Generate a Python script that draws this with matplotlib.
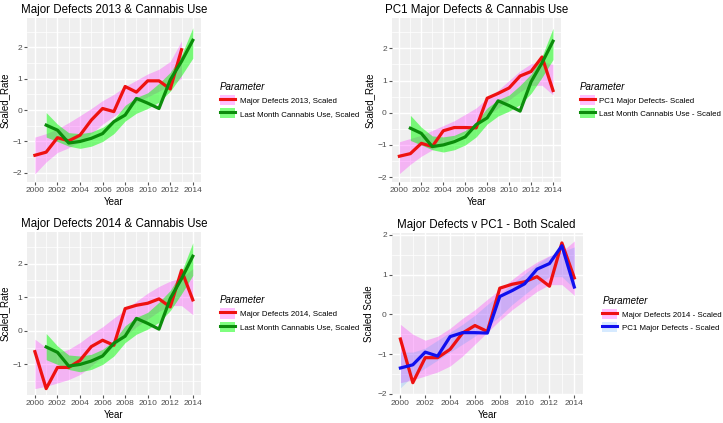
import numpy as np
import matplotlib
matplotlib.use("Agg")
import matplotlib.pyplot as plt
from matplotlib.patches import Patch
from matplotlib.lines import Line2D

plt.rcParams["font.family"] = ["Liberation Sans", "DejaVu Sans"]

# years
yrs_all = list(range(2000, 2015))
yrs_2013 = list(range(2000, 2014))
yrs_cann = list(range(2001, 2015))

# series values (scaled)
defects_2013 = [-1.44, -1.34, -0.88, -0.98, -0.80, -0.32, 0.05, -0.05, 0.75, 0.57, 0.93, 0.93, 0.67, 1.92]
defects_2014 = [-0.62, -1.72, -1.09, -1.09, -0.88, -0.47, -0.28, -0.43, 0.66, 0.76, 0.82, 0.95, 0.71, 1.80, 0.92]
pc1_defects = [-1.35, -1.27, -0.95, -1.05, -0.56, -0.46, -0.46, -0.47, 0.45, 0.60, 0.77, 1.14, 1.28, 1.73, 0.69]
cannabis = [-0.48, -0.64, -1.05, -1.00, -0.90, -0.75, -0.37, -0.16, 0.37, 0.22, 0.05, 0.96, 1.55, 2.22]

# smoother ribbons (lower / upper)
d13_lo = [-2.03, -1.65, -1.35, -1.20, -1.00, -0.75, -0.45, -0.20, 0.05, 0.25, 0.42, 0.60, 0.80, 1.00]
d13_hi = [-0.86, -0.75, -0.60, -0.40, -0.18, 0.05, 0.30, 0.50, 0.75, 0.95, 1.15, 1.30, 1.55, 2.20]
can_lo = [-0.86, -1.00, -1.15, -1.22, -1.15, -1.00, -0.75, -0.35, -0.10, 0.05, 0.25, 0.60, 1.10, 1.65]
can_hi = [-0.08, -0.45, -0.72, -0.75, -0.70, -0.55, -0.30, 0.15, 0.40, 0.55, 0.85, 1.20, 1.75, 2.62]
pc1_lo = [-1.89, -1.60, -1.35, -1.15, -0.95, -0.80, -0.62, -0.40, -0.10, 0.15, 0.40, 0.65, 0.85, 0.85, 0.55]
pc1_hi = [-0.90, -0.80, -0.70, -0.55, -0.40, -0.25, -0.05, 0.15, 0.45, 0.70, 1.00, 1.30, 1.52, 1.58, 1.50]
d14_lo = [-1.72, -1.65, -1.55, -1.45, -1.30, -1.05, -0.75, -0.45, -0.15, 0.12, 0.35, 0.58, 0.75, 0.75, 0.48]
d14_hi = [-0.25, -0.50, -0.65, -0.55, -0.35, -0.10, 0.12, 0.38, 0.62, 0.88, 1.12, 1.32, 1.48, 1.58, 1.85]
pcb_lo = [-1.85, -1.55, -1.35, -1.15, -0.95, -0.75, -0.55, -0.30, -0.05, 0.25, 0.50, 0.75, 0.95, 0.95, 0.65]
pcb_hi = [-0.95, -0.95, -0.85, -0.65, -0.45, -0.25, -0.02, 0.25, 0.50, 0.78, 1.02, 1.27, 1.47, 1.58, 1.70]

RED = "#ee1111"
GREEN = "#0b8c0b"
BLUE = "#1010ee"
PINK = ("#ff00ff", 0.25)
LGREEN = ("#00ff00", 0.5)
LBLUE = ("#3399ff", 0.2)

fig = plt.figure(figsize=(7.23, 4.23), dpi=100)
W, H = 723, 423


def make_ax(l, r, t, b):
    return fig.add_axes([l / W, 1 - b / H, (r - l) / W, (b - t) / H])


def style(ax, title, ylab, ylim, yticks, tx):
    ax.set_facecolor("#efefef")
    ax.set_xlim(1999.3, 2014.7)
    ax.set_xticks(range(2000, 2015, 2))
    ax.set_xticks(range(2001, 2015, 2), minor=True)
    ax.set_yticks(yticks)
    ax.set_yticks(np.arange(-2.5, 3.0, 1.0), minor=True)
    ax.set_ylim(*ylim)
    ax.grid(which="major", color="white", lw=1.0)
    ax.grid(which="minor", color="white", lw=0.5)
    ax.set_axisbelow(True)
    for s in ax.spines.values():
        s.set_visible(False)
    ax.tick_params(which="major", length=2, color="#555555", labelsize=6,
                   labelcolor="#4d4d4d", pad=1.5)
    ax.tick_params(which="minor", length=0)
    ax.set_title(title, fontsize=8.3, loc="left", x=tx, pad=3.6)
    ax.set_xlabel("Year", fontsize=7, labelpad=2)
    ax.set_ylabel(ylab, fontsize=7, labelpad=2)


def ribbon(ax, x, lo, hi, fill):
    ax.fill_between(x, lo, hi, color=fill[0], alpha=fill[1], lw=0)


def legend(ax, items, x_off):
    handles = [(Patch(facecolor=f[0], alpha=f[1], edgecolor="none"),
                Line2D([], [], color=c, lw=2.2)) for f, c, _ in items]
    labels = [lab for _, _, lab in items]
    leg = ax.legend(handles, labels, loc="center left", bbox_to_anchor=(x_off, 0.5),
                    frameon=False, fontsize=5.7, title="Parameter",
                    title_fontproperties={"style": "italic", "size": 7},
                    handlelength=1.9, handleheight=1.6, handletextpad=0.6,
                    labelspacing=0.4, borderpad=0.4, alignment="left")
    return leg


# panel 1
ax1 = make_ax(27, 200.7, 18, 182)
ribbon(ax1, yrs_2013, d13_lo, d13_hi, PINK)
ribbon(ax1, yrs_cann, can_lo, can_hi, LGREEN)
ax1.plot(yrs_2013, defects_2013, color=RED, lw=2.3)
ax1.plot(yrs_cann, cannabis, color=GREEN, lw=2.3)
style(ax1, "Major Defects 2013 & Cannabis Use", "Scaled_Rate", (-2.29, 2.93),
      [-2, -1, 0, 1, 2], -0.036)
legend(ax1, [(PINK, RED, "Major Defects 2013, Scaled"),
             (LGREEN, GREEN, "Last Month Cannabis Use, Scaled")], 1.07)

# panel 2
ax2 = make_ax(391.7, 560.7, 18, 182)
ribbon(ax2, yrs_all, pc1_lo, pc1_hi, PINK)
ribbon(ax2, yrs_cann, can_lo, can_hi, LGREEN)
ax2.plot(yrs_all, pc1_defects, color=RED, lw=2.3)
ax2.plot(yrs_cann, cannabis, color=GREEN, lw=2.3)
style(ax2, "PC1 Major Defects & Cannabis Use", "Scaled_Rate", (-2.15, 2.94),
      [-2, -1, 0, 1, 2], -0.04)
legend(ax2, [(PINK, RED, "PC1 Major Defects- Scaled"),
             (LGREEN, GREEN, "Last Month Cannabis Use - Scaled")], 1.07)

# panel 3
ax3 = make_ax(27, 200.7, 232, 395)
ribbon(ax3, yrs_all, d14_lo, d14_hi, PINK)
ribbon(ax3, yrs_cann, can_lo, can_hi, LGREEN)
ax3.plot(yrs_all, defects_2014, color=RED, lw=2.3)
ax3.plot(yrs_cann, cannabis, color=GREEN, lw=2.3)
style(ax3, "Major Defects 2014 & Cannabis Use", "Scaled_Rate", (-1.91, 2.94),
      [-1, 0, 1, 2], -0.036)
legend(ax3, [(PINK, RED, "Major Defects 2014, Scaled"),
             (LGREEN, GREEN, "Last Month Cannabis Use, Scaled")], 1.07)

# panel 4
ax4 = make_ax(391.7, 583, 233, 395)
ribbon(ax4, yrs_all, d14_lo, d14_hi, PINK)
ribbon(ax4, yrs_all, pcb_lo, pcb_hi, LBLUE)
ax4.plot(yrs_all, defects_2014, color=RED, lw=2.3)
ax4.plot(yrs_all, pc1_defects, color=BLUE, lw=2.3)
style(ax4, "Major Defects v PC1 - Both Scaled", "Scaled Scale", (-2.03, 2.05),
      [-2, -1, 0, 1, 2], 0.028)
legend(ax4, [(PINK, RED, "Major Defects 2014 - Scaled"),
             (LBLUE, BLUE, "PC1 Major Defects - Scaled")], 1.064)

fig.savefig("out.png", dpi=100)
